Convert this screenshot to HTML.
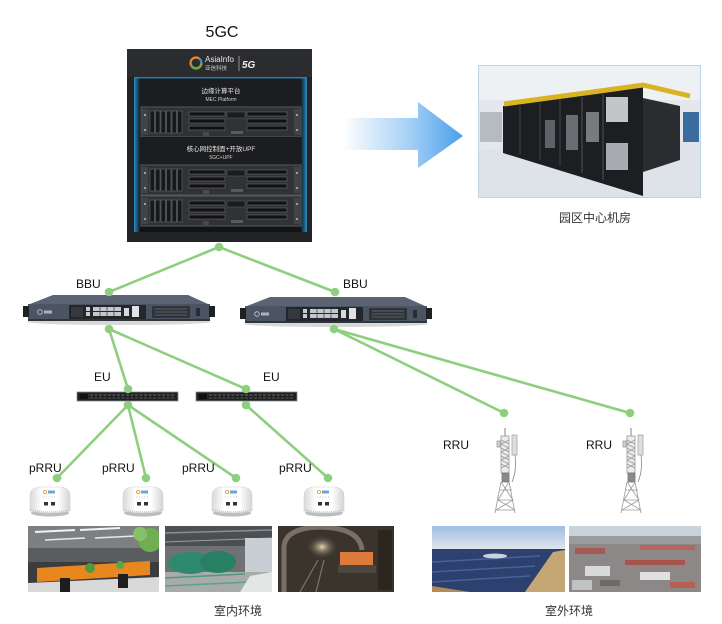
<!DOCTYPE html>
<html><head><meta charset="utf-8"><style>
html,body{margin:0;padding:0;background:#fff;}
svg{display:block;}
text{font-family:"Liberation Sans","Noto Sans CJK SC",sans-serif;}
</style></head><body>
<svg width="722" height="624" viewBox="0 0 722 624" xmlns="http://www.w3.org/2000/svg">
<defs>
 <linearGradient id="arr" x1="343" y1="0" x2="463" y2="0" gradientUnits="userSpaceOnUse">
  <stop offset="0" stop-color="#ffffff"/>
  <stop offset="0.55" stop-color="#a5d0f5"/>
  <stop offset="1" stop-color="#4a9fec"/>
 </linearGradient>
 <linearGradient id="blueL" x1="0" y1="0" x2="1" y2="0">
  <stop offset="0" stop-color="#2b8cc4"/><stop offset="1" stop-color="#10202a"/>
 </linearGradient>
 <linearGradient id="blueR" x1="0" y1="0" x2="1" y2="0">
  <stop offset="0" stop-color="#10202a"/><stop offset="1" stop-color="#2b8cc4"/>
 </linearGradient>
 <linearGradient id="prg" x1="0" y1="0" x2="1" y2="0">
  <stop offset="0" stop-color="#d9d9d9"/><stop offset="0.3" stop-color="#ffffff"/><stop offset="0.7" stop-color="#ffffff"/><stop offset="1" stop-color="#d4d4d4"/>
 </linearGradient>
 <linearGradient id="sky" x1="0" y1="0" x2="0" y2="1">
  <stop offset="0" stop-color="#9fbde6"/><stop offset="1" stop-color="#dfe5ea"/>
 </linearGradient>
 <radialGradient id="mineLight" cx="0.5" cy="0.5" r="0.5">
  <stop offset="0" stop-color="#e8d6b0"/><stop offset="1" stop-color="#3d352e" stop-opacity="0"/>
 </radialGradient>
 <g id="srv">
  <rect x="0" y="0" width="160" height="30" fill="#303235" stroke="#55585c" stroke-width="1"/>
  <rect x="1" y="2" width="6" height="26" fill="#404347"/>
  <rect x="153" y="2" width="6" height="26" fill="#404347"/>
  <circle cx="4" cy="8" r="1" fill="#bbb"/><circle cx="4" cy="23" r="1" fill="#bbb"/>
  <circle cx="156" cy="8" r="1" fill="#bbb"/><circle cx="156" cy="23" r="1" fill="#bbb"/>
  <rect x="9" y="4" width="4.5" height="22" fill="#17181a" stroke="#666a6e" stroke-width="0.6"/>
  <rect x="14.5" y="4" width="4.5" height="22" fill="#17181a" stroke="#666a6e" stroke-width="0.6"/>
  <rect x="20" y="4" width="4.5" height="22" fill="#17181a" stroke="#666a6e" stroke-width="0.6"/>
  <rect x="25.5" y="4" width="4.5" height="22" fill="#17181a" stroke="#666a6e" stroke-width="0.6"/>
  <rect x="31" y="4" width="4.5" height="22" fill="#17181a" stroke="#666a6e" stroke-width="0.6"/>
  <rect x="36.5" y="4" width="4.5" height="22" fill="#17181a" stroke="#666a6e" stroke-width="0.6"/>
  <rect x="48" y="5" width="36" height="4" fill="#111" stroke="#6a6d71" stroke-width="0.6"/>
  <rect x="48" y="12" width="36" height="4" fill="#111" stroke="#6a6d71" stroke-width="0.6"/>
  <rect x="48" y="19" width="36" height="4" fill="#111" stroke="#6a6d71" stroke-width="0.6"/>
  <rect x="86" y="5" width="18" height="6" fill="#1b1c1e" stroke="#5d6064" stroke-width="0.5"/>
  <rect x="106" y="5" width="40" height="4" fill="#111" stroke="#6a6d71" stroke-width="0.6"/>
  <rect x="106" y="12" width="40" height="4" fill="#111" stroke="#6a6d71" stroke-width="0.6"/>
  <rect x="106" y="19" width="40" height="4" fill="#111" stroke="#6a6d71" stroke-width="0.6"/>
  <rect x="62" y="25" width="6" height="4" fill="#4a4a4a"/>
  <rect x="90" y="24" width="12" height="3" fill="#5a5a5a"/>
 </g>
 <g id="bbu">
  <ellipse cx="119" cy="322" rx="92" ry="3" fill="#d8d8d8"/>
  <polygon points="53,295 188,295 208,304 30,304" fill="#5a6472"/>
  <rect x="28" y="304" width="182" height="16" fill="#4a5462"/>
  <rect x="28" y="319" width="182" height="2" fill="#2f353d"/>
  <rect x="23" y="306" width="6" height="11" fill="#1e2023"/>
  <rect x="209" y="306" width="6" height="11" fill="#1e2023"/>
  <circle cx="40" cy="312" r="2.3" fill="none" stroke="#d0d0d0" stroke-width="0.8"/>
  <rect x="44" y="310.5" width="8" height="3" fill="#aeb3b9"/>
  <rect x="69" y="305" width="77" height="14" fill="#23272c"/>
  <rect x="71" y="307" width="12" height="10" fill="#35393f"/>
  <rect x="86" y="307" width="4" height="4" fill="#c9ccd0"/>
  <rect x="86" y="312" width="4" height="4" fill="#c9ccd0"/>
  <rect x="93" y="307" width="28" height="4" fill="#c4c7cb"/>
  <rect x="93" y="312" width="28" height="4" fill="#c4c7cb"/>
  <line x1="100" y1="307" x2="100" y2="316" stroke="#444" stroke-width="0.8"/>
  <line x1="107" y1="307" x2="107" y2="316" stroke="#444" stroke-width="0.8"/>
  <line x1="114" y1="307" x2="114" y2="316" stroke="#444" stroke-width="0.8"/>
  <rect x="124" y="308" width="5" height="8" fill="#d6d8db"/>
  <rect x="132" y="306" width="7" height="11" fill="#e0e2e5"/>
  <rect x="152" y="306" width="38" height="12" fill="#2f343a"/>
  <line x1="155" y1="309" x2="187" y2="309" stroke="#6a717a" stroke-width="0.8"/>
  <line x1="155" y1="312" x2="187" y2="312" stroke="#6a717a" stroke-width="0.8"/>
  <line x1="155" y1="315" x2="187" y2="315" stroke="#6a717a" stroke-width="0.8"/>
  <rect x="196" y="308" width="4" height="8" fill="#2a2e33"/>
 </g>
 <g id="eu">
  <rect x="0" y="0" width="101" height="9" fill="#1e2022" stroke="#8a8d90" stroke-width="0.8"/>
  <line x1="4" y1="3" x2="97" y2="3" stroke="#6a6d70" stroke-width="1" stroke-dasharray="3 1.5"/>
  <line x1="4" y1="6" x2="97" y2="6" stroke="#5a5d60" stroke-width="1" stroke-dasharray="3 1.5"/>
  <rect x="3" y="2" width="8" height="5" fill="#0e0f10"/>
 </g>
 <g id="prru">
  <ellipse cx="0" cy="27" rx="19" ry="3.5" fill="#bdbdbd"/>
  <path d="M-20,25 L-20,10 Q-20,2 -11,1 L11,1 Q20,2 20,10 L20,25 Q0,29 -20,25 Z" fill="url(#prg)" stroke="#d2d2d2" stroke-width="0.6"/>
  <path d="M-19,24 Q0,28 19,24" fill="none" stroke="#c4c4c4" stroke-width="1.5" stroke-dasharray="1 1"/>
  <circle cx="-5" cy="6" r="1.6" fill="none" stroke="#e6a23c" stroke-width="0.9"/>
  <rect x="-2" y="4.5" width="7" height="3" fill="#6fa3d8"/>
  <line x1="-7" y1="11" x2="7" y2="11" stroke="#9a9a9a" stroke-width="0.8" stroke-dasharray="0.8 2"/>
  <rect x="-6" y="16" width="4" height="3.5" fill="#333"/>
  <rect x="1" y="16" width="4" height="3.5" fill="#333"/>
 </g>
 <g id="tower" fill="none" stroke="#999" stroke-width="0.8">
  <line x1="505" y1="428" x2="505" y2="436" stroke="#666"/>
  <rect x="501" y="436" width="8" height="37" fill="#ececec" stroke="#999"/>
  <path d="M501,440 L509,444 M501,444 L509,448 M501,448 L509,452 M501,452 L509,456 M501,456 L509,460 M501,460 L509,464 M501,464 L509,468 M509,440 L501,444 M509,448 L501,452 M509,456 L501,460 M509,464 L501,468"/>
  <rect x="512" y="435" width="5" height="20" fill="#dedede" stroke="#a5a5a5"/>
  <rect x="497" y="441" width="3" height="6" fill="#d5d5d5"/>
  <path d="M515,455 Q517,470 512,482" stroke="#888"/>
  <rect x="502" y="473" width="7" height="9" fill="#8a8a8a" stroke="#777"/>
  <path d="M501,482 L495,513 M509,482 L515,513 M500,490 L512,490 M498,500 L513,500 M496,510 L515,510 M501,482 L513,500 L496,510 M509,482 L498,500 L515,510" stroke="#999"/>
 </g>
</defs>

<!-- 5GC title -->
<text x="222" y="37" font-size="16" text-anchor="middle" fill="#111">5GC</text>

<!-- Rack -->
<rect x="127" y="49" width="185" height="193" fill="#222325"/>
<rect x="127" y="49" width="185" height="28" fill="#2b2c2f"/>
<rect x="134" y="77" width="173" height="155" fill="#121314"/>
<rect x="134" y="77" width="6" height="155" fill="url(#blueL)"/>
<rect x="301" y="77" width="6" height="155" fill="url(#blueR)"/>
<rect x="134" y="77" width="173" height="1.5" fill="#2b7fb0"/>
<circle cx="196" cy="63" r="5.5" fill="none" stroke="#e68a2e" stroke-width="2.2"/>
<path d="M191,65 A5.5,5.5 0 0 0 201,65" fill="none" stroke="#5bb04a" stroke-width="2.2"/>
<path d="M199,58.5 A5.5,5.5 0 0 1 201.5,63" fill="none" stroke="#2f8fd6" stroke-width="2.2"/>
<text x="205" y="62" font-size="8" fill="#e8e8e8">AsiaInfo</text>
<text x="205" y="70" font-size="5.5" fill="#cfcfcf">亚信科技</text>
<line x1="239" y1="56" x2="239" y2="71" stroke="#aaa" stroke-width="0.8"/>
<text x="242" y="68" font-size="10" font-weight="bold" font-style="italic" fill="#f0f0f0">5G</text>
<rect x="140" y="79" width="161" height="28" fill="#1c1d1f"/>
<text x="221" y="93" font-size="6.5" text-anchor="middle" fill="#e4e4e4">边缘计算平台</text>
<text x="221" y="101" font-size="5" text-anchor="middle" fill="#d0d0d0">MEC Platform</text>
<use href="#srv" x="141" y="107"/>
<rect x="140" y="137" width="161" height="28" fill="#1c1d1f"/>
<text x="221" y="151" font-size="6.5" text-anchor="middle" fill="#e4e4e4">核心网控制面+开放UPF</text>
<text x="221" y="159" font-size="5" text-anchor="middle" fill="#d0d0d0">5GC+UPF</text>
<use href="#srv" x="141" y="165"/>
<use href="#srv" x="141" y="196"/>

<!-- Big arrow -->
<polygon points="343,118 418,118 418,102 463,136 418,168 418,150 343,150" fill="url(#arr)"/>

<!-- Data center photo -->
<svg x="478" y="65" width="223" height="133" viewBox="478 65 223 133">
 <rect x="478" y="65" width="223" height="133" fill="#e4e8ec"/>
 <rect x="478" y="65" width="223" height="35" fill="#eef1f3"/>
 <polygon points="478,150 701,140 701,198 478,198" fill="#dde3e8"/>
 <rect x="480" y="112" width="22" height="30" fill="#b5bbc1"/>
 <polygon points="503,106 643,87 643,196 503,153" fill="#1c1e21"/>
 <polygon points="643,98 680,106 680,160 643,172" fill="#2a2c30"/>
 <polyline points="504,104 600,91 643,85 690,96" fill="none" stroke="#d8b424" stroke-width="5"/>
 <line x1="520" y1="106" x2="520" y2="155" stroke="#3e4145" stroke-width="1"/>
 <line x1="540" y1="103" x2="540" y2="160" stroke="#3e4145" stroke-width="1"/>
 <line x1="560" y1="100" x2="560" y2="166" stroke="#3e4145" stroke-width="1.2"/>
 <line x1="582" y1="97" x2="582" y2="173" stroke="#3e4145" stroke-width="1.5"/>
 <line x1="603" y1="94" x2="603" y2="180" stroke="#3e4145" stroke-width="1.5"/>
 <rect x="545" y="120" width="10" height="28" fill="#5f6368"/>
 <rect x="566" y="115" width="12" height="35" fill="#6a6e73"/>
 <rect x="586" y="112" width="13" height="30" fill="#777b80"/>
 <rect x="606" y="97" width="22" height="25" fill="#c2c6c9"/>
 <rect x="606" y="143" width="22" height="27" fill="#a8acb0"/>
 <rect x="683" y="112" width="16" height="30" fill="#3a6c9e"/>
 <rect x="478.5" y="65.5" width="222" height="132" fill="none" stroke="#bcd3e8"/>
</svg>
<text x="595" y="222" font-size="12" text-anchor="middle" fill="#333">园区中心机房</text>

<!-- connectors -->
<g stroke="#8dcf7f" stroke-width="2.6" fill="none" stroke-linecap="round">
 <line x1="219" y1="247" x2="109" y2="292"/>
 <line x1="219" y1="247" x2="335" y2="292"/>
 <line x1="109" y1="329" x2="128" y2="389"/>
 <line x1="109" y1="329" x2="246" y2="389"/>
 <line x1="334" y1="329" x2="504" y2="413"/>
 <line x1="334" y1="329" x2="630" y2="413"/>
 <line x1="128" y1="405" x2="57" y2="478"/>
 <line x1="128" y1="405" x2="146" y2="478"/>
 <line x1="128" y1="405" x2="236" y2="478"/>
 <line x1="246" y1="405" x2="328" y2="478"/>
</g>

<!-- BBUs -->
<use href="#bbu"/>
<use href="#bbu" x="217" y="2"/>
<text x="76" y="288" font-size="12" fill="#111">BBU</text>
<text x="343" y="288" font-size="12" fill="#111">BBU</text>

<!-- EUs -->
<use href="#eu" x="77" y="392"/>
<use href="#eu" x="196" y="392"/>
<text x="94" y="381" font-size="12" fill="#111">EU</text>
<text x="263" y="381" font-size="12" fill="#111">EU</text>

<!-- pRRUs -->
<use href="#prru" x="50" y="486"/>
<use href="#prru" x="143" y="486"/>
<use href="#prru" x="232" y="486"/>
<use href="#prru" x="324" y="486"/>
<text x="29" y="472" font-size="12" fill="#111">pRRU</text>
<text x="102" y="472" font-size="12" fill="#111">pRRU</text>
<text x="182" y="472" font-size="12" fill="#111">pRRU</text>
<text x="279" y="472" font-size="12" fill="#111">pRRU</text>

<!-- towers -->
<use href="#tower"/>
<use href="#tower" x="126"/>
<text x="443" y="449" font-size="12" fill="#111">RRU</text>
<text x="586" y="449" font-size="12" fill="#111">RRU</text>

<!-- dots -->
<g fill="#8dcf7f">
 <circle cx="219" cy="247" r="4.3"/>
 <circle cx="109" cy="292" r="4.3"/>
 <circle cx="335" cy="292" r="4.3"/>
 <circle cx="109" cy="329" r="4.3"/>
 <circle cx="334" cy="329" r="4.3"/>
 <circle cx="128" cy="389" r="4.3"/>
 <circle cx="246" cy="389" r="4.3"/>
 <circle cx="128" cy="405" r="4.3"/>
 <circle cx="246" cy="405" r="4.3"/>
 <circle cx="504" cy="413" r="4.3"/>
 <circle cx="630" cy="413" r="4.3"/>
 <circle cx="57" cy="478" r="4.3"/>
 <circle cx="146" cy="478" r="4.3"/>
 <circle cx="236" cy="478" r="4.3"/>
 <circle cx="328" cy="478" r="4.3"/>
</g>

<!-- Office photo -->
<svg x="28" y="526" width="131" height="66" viewBox="28 526 131 66">
 <rect x="28" y="526" width="131" height="66" fill="#3b3c3e"/>
 <rect x="28" y="526" width="131" height="22" fill="#7d8083"/>
 <line x1="35" y1="532" x2="75" y2="530" stroke="#f2f2f2" stroke-width="2"/>
 <line x1="80" y1="530" x2="120" y2="528" stroke="#f2f2f2" stroke-width="2"/>
 <line x1="45" y1="540" x2="85" y2="538" stroke="#e8e8e8" stroke-width="1.5"/>
 <line x1="95" y1="538" x2="135" y2="536" stroke="#e8e8e8" stroke-width="1.5"/>
 <rect x="28" y="548" width="131" height="14" fill="#5a5c5f"/>
 <polygon points="37,568 150,561 150,575 37,582" fill="#e8861f"/>
 <circle cx="90" cy="568" r="5" fill="#4f9a3a"/>
 <circle cx="120" cy="565" r="4" fill="#5aa544"/>
 <polygon points="28,583 159,577 159,592 28,592" fill="#d9d9d9"/>
 <rect x="60" y="578" width="10" height="14" fill="#1e1e1e"/>
 <rect x="118" y="574" width="10" height="14" fill="#1e1e1e"/>
 <circle cx="150" cy="540" r="12" fill="#6fae52"/>
 <circle cx="140" cy="534" r="7" fill="#86c067"/>
</svg>

<!-- Factory photo -->
<svg x="165" y="526" width="107" height="66" viewBox="165 526 107 66">
 <rect x="165" y="526" width="107" height="66" fill="#6e7274"/>
 <rect x="165" y="526" width="107" height="20" fill="#4b4f52"/>
 <line x1="165" y1="533" x2="272" y2="530" stroke="#8a8f92" stroke-width="1.5"/>
 <line x1="165" y1="542" x2="272" y2="538" stroke="#9a9ea1" stroke-width="1"/>
 <rect x="245" y="538" width="27" height="38" fill="#c7cfd4"/>
 <rect x="165" y="572" width="107" height="20" fill="#a7abac"/>
 <ellipse cx="190" cy="563" rx="22" ry="11" fill="#2d8a6c"/>
 <ellipse cx="218" cy="562" rx="18" ry="11" fill="#278063"/>
 <line x1="165" y1="578" x2="245" y2="574" stroke="#4f9a78" stroke-width="1.5"/>
 <line x1="165" y1="586" x2="250" y2="582" stroke="#5aa383" stroke-width="1.5"/>
 <polygon points="250,576 272,572 272,592 240,592" fill="#e4e6e6"/>
</svg>

<!-- Mine photo -->
<svg x="278" y="526" width="116" height="66" viewBox="278 526 116 66">
 <rect x="278" y="526" width="116" height="66" fill="#3b342d"/>
 <path d="M284,592 L284,548 Q284,528 320,527 Q360,528 362,550" fill="none" stroke="#7a7066" stroke-width="5"/>
 <ellipse cx="322" cy="547" rx="16" ry="12" fill="url(#mineLight)"/>
 <rect x="340" y="552" width="33" height="13" fill="#de7a3c"/>
 <rect x="338" y="565" width="38" height="8" fill="#4d4640"/>
 <line x1="300" y1="592" x2="318" y2="560" stroke="#7c746c" stroke-width="1.2"/>
 <line x1="316" y1="592" x2="324" y2="560" stroke="#7c746c" stroke-width="1.2"/>
 <rect x="378" y="530" width="14" height="60" fill="#2c2621"/>
</svg>

<!-- Solar photo -->
<svg x="432" y="526" width="133" height="66" viewBox="432 526 133 66">
 <rect x="432" y="526" width="133" height="66" fill="#2c4170"/>
 <rect x="432" y="526" width="133" height="23" fill="url(#sky)"/>
 <line x1="432" y1="562" x2="540" y2="556" stroke="#4a6292" stroke-width="1.5"/>
 <line x1="432" y1="572" x2="535" y2="566" stroke="#4a6292" stroke-width="1.5"/>
 <line x1="432" y1="582" x2="530" y2="576" stroke="#4a6292" stroke-width="1.5"/>
 <ellipse cx="495" cy="556" rx="12" ry="2.5" fill="#c8d3e2"/>
 <polygon points="553,552 565,550 565,592 525,592" fill="#c7a676"/>
 <polygon points="432,586 470,592 432,592" fill="#b08d55"/>
</svg>

<!-- Port photo -->
<svg x="569" y="526" width="132" height="66" viewBox="569 526 132 66">
 <rect x="569" y="526" width="132" height="66" fill="#8b8887"/>
 <rect x="569" y="526" width="132" height="10" fill="#c9d3db"/>
 <rect x="569" y="536" width="132" height="8" fill="#9b9a9c"/>
 <rect x="575" y="548" width="30" height="6" fill="#a35a52"/>
 <rect x="640" y="545" width="55" height="5" fill="#b4665d"/>
 <rect x="625" y="560" width="60" height="5" fill="#a8544c"/>
 <rect x="585" y="566" width="25" height="10" fill="#d8dadb"/>
 <rect x="640" y="572" width="30" height="8" fill="#e0e0e0"/>
 <rect x="600" y="580" width="20" height="6" fill="#6d6a68"/>
 <rect x="670" y="582" width="25" height="6" fill="#b75f55"/>
 <rect x="572" y="580" width="20" height="10" fill="#bfc3c4"/>
</svg>

<text x="238" y="615" font-size="12" text-anchor="middle" fill="#333">室内环境</text>
<text x="569" y="615" font-size="12" text-anchor="middle" fill="#333">室外环境</text>
</svg>
</body></html>
